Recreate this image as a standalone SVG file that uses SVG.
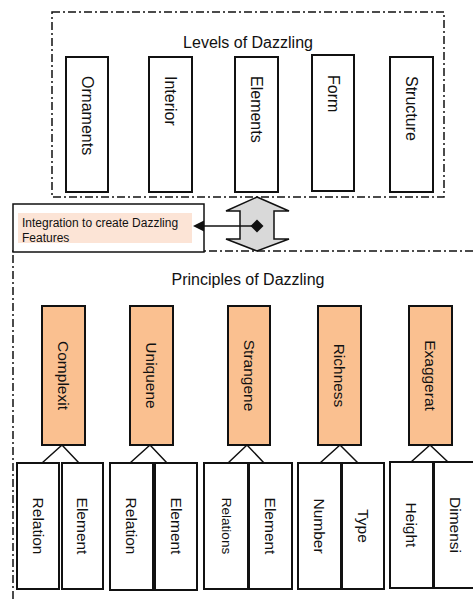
<svg xmlns="http://www.w3.org/2000/svg" width="473" height="601" viewBox="0 0 473 601">
<style>
text{font-family:"Liberation Sans",Arial,sans-serif;fill:#111}
.dash{fill:none;stroke:#111;stroke-width:1.5;stroke-dasharray:8 3 2 3}
.box{fill:#fff;stroke:#111;stroke-width:2}
.obox{fill:#fac090;stroke:#111;stroke-width:2}
.title{font-size:16px;text-anchor:middle}
.vt{font-size:16px;dominant-baseline:central}
.vc{font-size:15.5px;dominant-baseline:central;text-anchor:middle}
.ln{fill:none;stroke:#111;stroke-width:1.5}
</style>
<rect width="473" height="601" fill="#fff"/>
<g id="levels-frame">
<rect class="dash" x="52" y="12" width="392" height="185"/>
<text class="title" x="248" y="48">Levels of Dazzling</text>
</g>
<g id="principles-frame">
<path class="dash" d="M473 251 H13 V601"/>
<text class="title" x="248" y="285">Principles of Dazzling</text>
</g>
<g id="ornaments"><rect class="box" x="66" y="57" width="42" height="135"/><text class="vt" transform="translate(87,76) rotate(90)">Ornaments</text></g>
<g id="interior"><rect class="box" x="149" y="57" width="43" height="135"/><text class="vt" transform="translate(170.5,76) rotate(90)">Interior</text></g>
<g id="elements"><rect class="box" x="235" y="57" width="43" height="135"/><text class="vt" transform="translate(256.5,76) rotate(90)">Elements</text></g>
<g id="form"><rect class="box" x="312" y="55" width="42" height="136"/><text class="vt" transform="translate(333,75) rotate(90)">Form</text></g>
<g id="structure"><rect class="box" x="390" y="57" width="43" height="135"/><text class="vt" transform="translate(411.5,76) rotate(90)">Structure</text></g>
<g id="integration">
<rect x="13" y="204" width="191" height="48" fill="#fff" stroke="#111" stroke-width="1.5"/>
<rect x="18" y="213" width="174" height="30" fill="#fce4d6"/>
<text x="22" y="227" font-size="12px">Integration to create Dazzling</text>
<text x="22" y="242" font-size="12px">Features</text>
</g>
<g id="updown-arrow">
<polygon points="257,197 289,211 274,211 274,239 289,239 257,251 226,239 240,239 240,211 226,211" fill="#d9d9d9" stroke="#111" stroke-width="1.5" stroke-linejoin="miter"/>
</g>
<g id="complexity"><rect class="obox" x="42" y="306" width="43" height="139"/><text class="vc" transform="translate(63.5,375.5) rotate(90)">Complexit</text></g>
<g id="uniqueness"><rect class="obox" x="130" y="306" width="43" height="139"/><text class="vc" transform="translate(151.5,375.5) rotate(90)">Uniquene</text></g>
<g id="strangeness"><rect class="obox" x="228" y="306" width="42" height="139"/><text class="vc" transform="translate(249,375.5) rotate(90)">Strangene</text></g>
<g id="richness"><rect class="obox" x="318" y="306" width="43" height="139"/><text class="vc" transform="translate(339.5,375.5) rotate(90)">Richness</text></g>
<g id="exaggeration"><rect class="obox" x="409" y="306" width="43" height="139"/><text class="vc" transform="translate(430.5,375.5) rotate(90)">Exaggerat</text></g>
<g id="relation-1"><rect class="box" x="17" y="463" width="42" height="126"/><text class="vc" transform="translate(38,526) rotate(90)">Relation</text></g>
<g id="element-1"><rect class="box" x="62" y="463" width="41" height="126"/><text class="vc" transform="translate(82.5,526) rotate(90)">Element</text></g>
<g id="relation-2"><rect class="box" x="110" y="463" width="43" height="127"/><text class="vc" transform="translate(131.5,526) rotate(90)">Relation</text></g>
<g id="element-2"><rect class="box" x="155" y="463" width="42" height="127"/><text class="vc" transform="translate(176,526) rotate(90)">Element</text></g>
<g id="relations-3"><rect class="box" x="204" y="463" width="44" height="126"/><text class="vc" transform="translate(226,526) rotate(90)" style="font-size:13.5px">Relations</text></g>
<g id="element-3"><rect class="box" x="249" y="463" width="43" height="126"/><text class="vc" transform="translate(270.5,526) rotate(90)">Element</text></g>
<g id="number"><rect class="box" x="298" y="463" width="43" height="126"/><text class="vc" transform="translate(319.5,526) rotate(90)">Number</text></g>
<g id="type"><rect class="box" x="342" y="463" width="42" height="126"/><text class="vc" transform="translate(363,526) rotate(90)">Type</text></g>
<g id="height"><rect class="box" x="390" y="462" width="43" height="126"/><text class="vc" transform="translate(411.5,525) rotate(90)">Height</text></g>
<g id="dimension"><rect class="box" x="434" y="462" width="43" height="126"/><text class="vc" transform="translate(455.5,525) rotate(90)">Dimensi</text></g>
<g id="connectors">
<path class="ln" d="M42 463 L62 445 L79 463"/>
<path class="ln" d="M130 463 L150 445 L167 463"/>
<path class="ln" d="M228 463 L247 445 L264 463"/>
<path class="ln" d="M320 463 L340 445 L358 463"/>
<path class="ln" d="M411 462 L430 445 L448 462"/>
<line class="ln" x1="257" y1="226" x2="202" y2="226"/>
<polygon points="193,226 204,220.5 204,231.5" fill="#111"/>
<polygon points="257,219.5 263.5,226 257,232.5 250.5,226" fill="#111"/>
</g>
</svg>
